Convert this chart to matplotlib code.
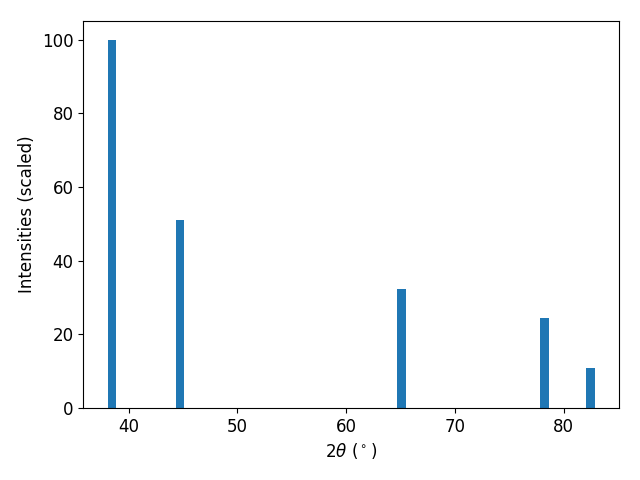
import matplotlib
matplotlib.use('Agg')
import matplotlib.pyplot as plt

# Peak positions (2theta, degrees) and scaled intensities
two_theta = [38.47, 44.72, 65.10, 78.23, 82.44]
intensities = [100.0, 51.0, 32.2, 24.5, 10.9]

plt.rcParams['font.size'] = 12

fig, ax = plt.subplots(figsize=(6.4, 4.8), dpi=100)
ax.bar(two_theta, intensities, width=0.8, color='#1f77b4')
ax.set_xlabel(r'$2\theta$ ($^\circ$)')
ax.set_ylabel('Intensities (scaled)')

fig.subplots_adjust(left=0.130, right=0.967, top=0.956, bottom=0.150)
plt.savefig('out.png')
